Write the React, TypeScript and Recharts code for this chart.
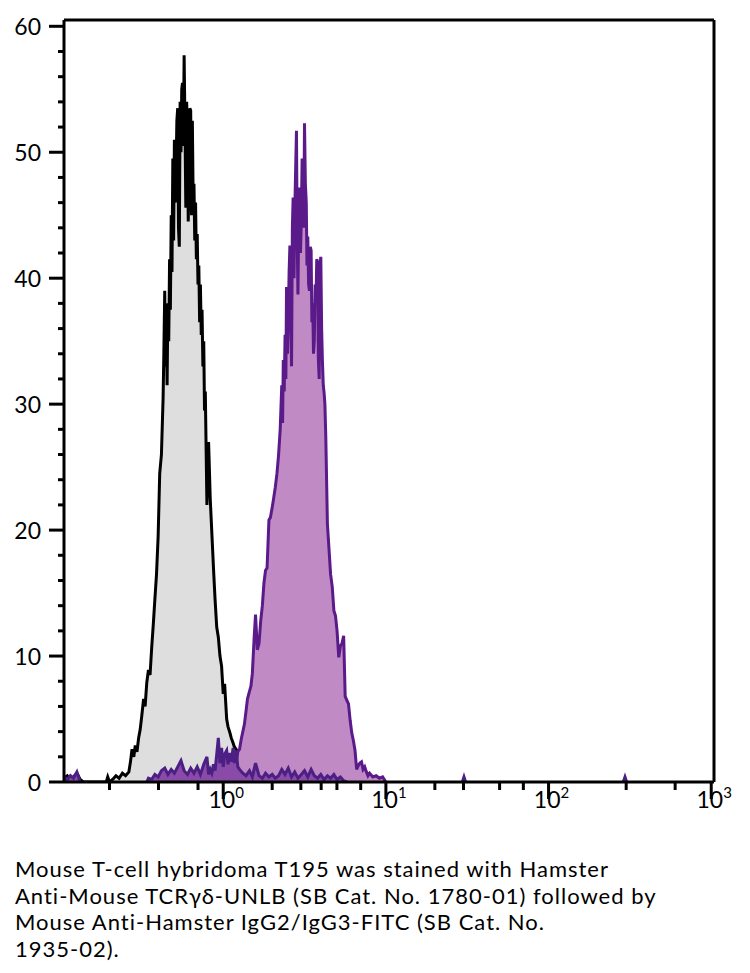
import React from 'react';
import { ComposedChart, Area, XAxis, YAxis, ReferenceLine } from 'recharts';

// isotype control (grey histogram)
const GRAY_X = [
  0.105, 0.11, 0.115, 0.12, 0.126, 0.132, 0.138, 0.191, 0.195, 0.2, 0.209, 0.219, 0.229, 0.24, 0.251,
  0.263, 0.269, 0.275, 0.282, 0.288, 0.295, 0.302, 0.309, 0.316, 0.324, 0.331, 0.339, 0.347, 0.355,
  0.363, 0.372, 0.38, 0.389, 0.398, 0.407, 0.417,
  0.427, 0.4315, 0.437, 0.4416, 0.447, 0.4519, 0.457, 0.4624, 0.468, 0.4732, 0.479, 0.4842, 0.49,
  0.4955, 0.501, 0.507, 0.513, 0.5188, 0.525, 0.5309, 0.537, 0.5433, 0.55, 0.5559, 0.562, 0.5689,
  0.575, 0.5821, 0.589, 0.5957, 0.603, 0.6095, 0.617, 0.6237, 0.631, 0.6383, 0.646, 0.6531, 0.661,
  0.6683, 0.676, 0.6839, 0.692, 0.6998, 0.708, 0.7161, 0.724, 0.7328, 0.741, 0.7499, 0.759, 0.7674,
  0.776, 0.794, 0.813, 0.832, 0.851, 0.871, 0.891, 0.912, 0.933,
  0.955, 0.977, 1.0, 1.02, 1.05, 1.07, 1.1, 1.12, 1.15, 1.17, 1.2, 1.23, 1.26, 1.29, 1.32,
];
const GRAY_Y = [
  0.3, 0.5, 0.2, 0.4, 0.7, 0.2, 0, 0, 0.4, 0, 0.2, 0.5, 0.3, 0.7, 0.5,
  0.8, 1.6, 2.6, 2.0, 2.9, 2.4, 3.5, 4.2, 5.3, 6.6, 6.0, 7.9, 8.9, 8.5,
  10.6, 12.6, 14.5, 16.5, 19.5, 24.5, 26.0,
  30.5, 34.0, 39.0, 33.0, 36.0, 31.5, 38.0, 35.0, 41.5, 37.5, 45.0, 40.5, 49.5,
  43.0, 51.0, 46.0, 48.5, 52.5, 53.5, 44.0, 42.5, 54.0, 50.0, 55.0, 55.5, 50.5,
  57.7, 52.0, 45.6, 54.0, 51.5, 44.5, 48.5, 53.5, 53.3, 45.0, 52.5, 46.5, 47.5,
  43.0, 46.0, 41.5, 43.5, 39.5, 41.0, 36.5, 39.5, 35.5, 37.5, 33.0, 35.0, 29.5,
  31.0, 22.0, 27.0, 22.5, 19.8, 17.0, 14.5, 12.3, 11.5,
  10.0, 9.2, 7.0, 7.8, 5.0, 4.4, 3.9, 3.5, 3.1, 2.8, 2.6, 2.4, 2.0, 1.2, 0,
];

// stained sample (purple histogram)
const PURPLE_X = [
  1.2, 1.23, 1.26, 1.29, 1.32, 1.35, 1.38, 1.41, 1.45, 1.48, 1.51, 1.55, 1.58, 1.62, 1.66, 1.7,
  1.74, 1.78, 1.82, 1.86, 1.91, 1.95, 2.0, 2.04, 2.09, 2.14, 2.19, 2.24,
  2.29, 2.317, 2.34, 2.371, 2.4, 2.427, 2.45, 2.483, 2.51, 2.541, 2.57, 2.6, 2.63, 2.661, 2.69,
  2.723, 2.75, 2.786, 2.82, 2.851, 2.88, 2.917, 2.95, 2.985, 3.02, 3.055, 3.09, 3.126, 3.16,
  3.199, 3.24, 3.273, 3.31, 3.35, 3.39, 3.428, 3.47, 3.508, 3.55, 3.589, 3.63, 3.673, 3.72,
  3.758, 3.8, 3.846, 3.89, 3.936, 3.98, 4.027, 4.07, 4.121, 4.17, 4.217, 4.27,
  4.37, 4.47, 4.57, 4.68, 4.79, 4.9, 5.01, 5.13,
  5.25, 5.37, 5.5, 5.62, 5.75, 5.89, 6.03, 6.17, 6.31, 6.46, 6.61, 6.76, 6.92, 7.08, 7.24, 7.41,
  7.59, 7.76, 7.94, 8.32, 8.71, 9.12, 9.55, 10.0,
];
const PURPLE_Y = [
  1.5, 2.4, 2.6, 3.4, 4.0, 4.6, 5.6, 6.6, 7.2, 7.6, 8.6, 11.5, 13.3, 10.5, 11.0, 12.8,
  14.0, 15.8, 16.8, 17.0, 20.8, 21.0, 21.8, 22.5, 23.4, 24.5, 26.0, 28.0,
  31.5, 28.5, 33.5, 31.0, 35.5, 32.0, 39.3, 34.0, 36.5, 40.5, 42.6, 37.5, 33.0, 44.0, 46.4,
  40.0, 45.0, 48.5, 51.7, 43.0, 38.7, 45.5, 47.2, 42.0, 44.6, 49.5, 48.0, 44.0, 52.3,
  47.5, 46.0, 41.0, 43.3, 39.5, 39.0, 42.5, 42.2, 36.5, 38.0, 34.0, 35.1, 39.5, 38.5,
  41.5, 41.3, 33.5, 32.0, 41.0, 41.7, 36.0, 33.5, 31.5, 30.9, 30.0, 27.5,
  20.5, 18.5, 16.5, 15.5, 13.6, 13.2, 12.0, 9.9,
  10.8, 11.0, 11.6, 6.8, 6.5, 6.2, 4.9, 3.9, 3.3, 2.5, 1.0, 1.3, 1.5, 1.6, 1.0, 1.2,
  0.8, 0.5, 0.7, 0.4, 0.5, 0.3, 0.4, 0,
];

// low-level events (dark purple trace)
const NOISE_X = [
  0.105, 0.11, 0.115, 0.12, 0.126, 0.132, 0.2, 0.339, 0.347, 0.363, 0.38, 0.398, 0.417, 0.437, 0.457,
  0.479, 0.501, 0.525, 0.55, 0.575, 0.603, 0.631, 0.661, 0.692, 0.724, 0.759, 0.794, 0.813, 0.832,
  0.851, 0.871, 0.891, 0.912, 0.933, 0.955, 0.977, 1.0, 1.02, 1.05, 1.07, 1.1, 1.12, 1.15, 1.17,
  1.2, 1.23, 1.26, 1.32, 1.38, 1.45, 1.51, 1.58, 1.66, 1.74, 1.82, 1.91, 2.0, 2.09, 2.19, 2.29,
  2.4, 2.51, 2.63, 2.75, 2.88, 3.02, 3.16, 3.31, 3.47, 3.63, 3.8, 3.98, 4.17, 4.37, 4.57, 4.79,
  5.01, 5.25, 5.5, 5.75, 15, 29.5, 30.2, 30.9, 150, 288, 295, 302,
];
const NOISE_Y = [
  0.4, 0.2, 0.5, 0.3, 0.8, 0, null, 0, 0.3, 0.2, 0.6, 0.4, 0.9, 1.1, 0.6,
  1.0, 0.7, 1.2, 1.7, 0.9, 0.6, 1.1, 0.7, 1.2, 0.6, 1.4, 2.0, 0.6, 1.0,
  0.7, 1.4, 0.9, 2.2, 3.5, 1.5, 2.7, 1.2, 2.2, 2.5, 1.4, 2.3, 1.6, 2.7, 1.5,
  2.5, 1.2, 1.0, 0.7, 0.5, 0.9, 0.4, 1.5, 0.5, 0.3, 0.7, 0.4, 0.6, 0.3, 0.5, 1.0,
  0.6, 1.1, 0.4, 0.8, 0.3, 0.6, 0.9, 0.4, 1.0, 0.5, 0.3, 0.6, 0.2, 0.5, 0.3, 0.6,
  0.2, 0.4, 0.1, 0, null, 0, 0.4, 0, null, 0, 0.4, 0,
];

const X_TICKS = [
  0.2, 0.3, 0.4, 0.5, 0.6, 0.7, 0.8, 0.9, 1, 2, 3, 4, 5, 6, 7, 8, 9, 10,
  20, 30, 40, 50, 60, 70, 80, 90, 100, 200, 300, 400, 500, 600, 700, 800, 900, 1000,
];
const X_MAJOR = [1, 10, 100, 1000];
const Y_TICKS = [0, 2, 4, 6, 8, 10, 12, 14, 16, 18, 20, 22, 24, 26, 28, 30, 32, 34, 36, 38, 40, 42, 44, 46, 48, 50, 52, 54, 56, 58, 60];

const CAPTION = [
  'Mouse T-cell hybridoma T195 was stained with Hamster',
  'Anti-Mouse TCRγδ-UNLB (SB Cat. No. 1780-01) followed by',
  'Mouse Anti-Hamster IgG2/IgG3-FITC (SB Cat. No.',
  '1935-02).',
];

const FONT = 'Lato, "Open Sans", sans-serif';

const toRows = (xs: number[], ys: (number | null)[]) => xs.map((x, i) => ({ x, y: ys[i] }));

const grayData = toRows(GRAY_X, GRAY_Y);
const purpleData = toRows(PURPLE_X, PURPLE_Y);
const noiseData = toRows(NOISE_X, NOISE_Y);

function XTick(props: any) {
  const { x, y, payload } = props;
  const exp = X_MAJOR.indexOf(payload.value);
  const major = exp >= 0;
  return (
    <g>
      <line x1={x} x2={x} y1={y} y2={y + (major ? 17 : 8)} stroke="#000" strokeWidth={3} />
      {major && (
        <text x={x + 3} y={y + 26} textAnchor="middle" fontFamily={FONT} fontSize={23} fill="#000">
          <tspan>10</tspan>
          <tspan dy={-10} fontSize={15}>{exp}</tspan>
        </text>
      )}
    </g>
  );
}

function YTick(props: any) {
  const { x, y, payload } = props;
  const major = payload.value % 10 === 0;
  return (
    <g>
      <line x1={x - (major ? 15 : 6)} x2={x} y1={y} y2={y} stroke="#000" strokeWidth={3} />
      {major && (
        <text x={x - 23} y={y + 9} textAnchor="end" fontFamily={FONT} fontSize={23} fill="#000">
          {payload.value}
        </text>
      )}
    </g>
  );
}

export default function App() {
  return (
    <div style={{ position: 'absolute', left: 0, top: 0, width: 750, height: 973, background: '#fff' }}>
      <ComposedChart width={750} height={830} margin={{ top: 20, right: 36, bottom: 0, left: 0 }}>
        <XAxis
          dataKey="x"
          type="number"
          scale="log"
          domain={[0.105, 1040]}
          allowDataOverflow
          ticks={X_TICKS}
          tick={<XTick />}
          tickSize={0}
          tickMargin={0}
          tickLine={false}
          height={48}
          axisLine={{ stroke: '#000', strokeWidth: 3 }}
        />
        <YAxis
          type="number"
          domain={[0, 60.5]}
          allowDataOverflow
          ticks={Y_TICKS}
          tick={<YTick />}
          tickSize={0}
          tickMargin={0}
          tickLine={false}
          width={64}
          axisLine={{ stroke: '#000', strokeWidth: 3 }}
        />
        <Area
          data={grayData}
          dataKey="y"
          type="linear"
          stroke="#000"
          strokeWidth={3}
          fill="#dedede"
          fillOpacity={1}
          dot={false}
          activeDot={false}
          isAnimationActive={false}
        />
        <Area
          data={purpleData}
          dataKey="y"
          type="linear"
          stroke="#5a1a8a"
          strokeWidth={3}
          fill="#c08ac4"
          fillOpacity={1}
          dot={false}
          activeDot={false}
          isAnimationActive={false}
        />
        <Area
          data={noiseData}
          dataKey="y"
          type="linear"
          stroke="#4c1f84"
          strokeWidth={3}
          fill="#8a4aa8"
          fillOpacity={1}
          dot={false}
          activeDot={false}
          isAnimationActive={false}
        />
        <ReferenceLine y={60.5} stroke="#000" strokeWidth={3} />
        <ReferenceLine x={1040} stroke="#000" strokeWidth={3} />
      </ComposedChart>
      <div
        style={{
          position: 'absolute',
          left: 15,
          top: 856,
          fontFamily: FONT,
          fontSize: 22,
          letterSpacing: '1px',
          lineHeight: '26.5px',
          color: '#000',
          whiteSpace: 'nowrap',
        }}
      >
        {CAPTION.map((line) => (
          <div key={line}>{line}</div>
        ))}
      </div>
    </div>
  );
}
